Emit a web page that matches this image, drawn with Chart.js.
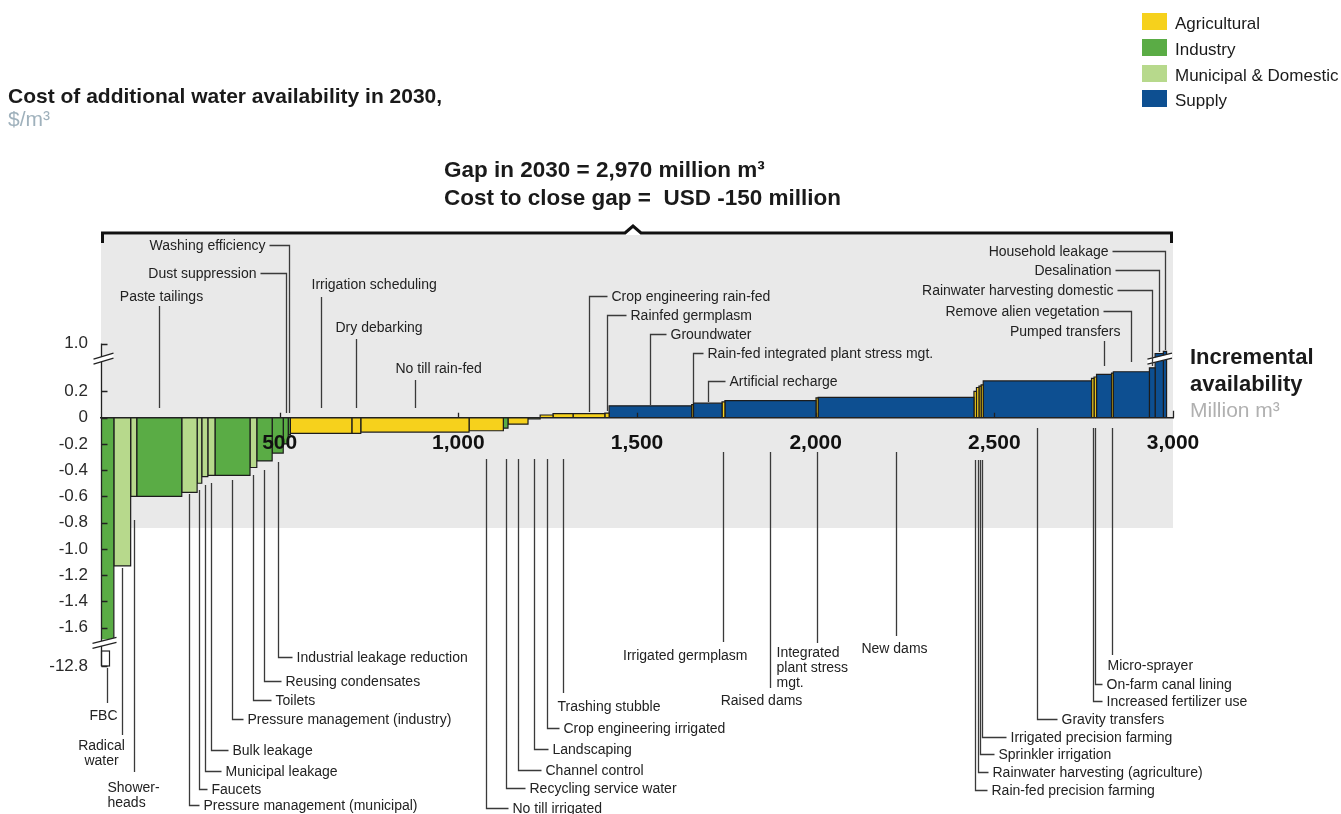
<!DOCTYPE html>
<html>
<head>
<meta charset="utf-8">
<script src="https://cdn.jsdelivr.net/npm/chart.js@4.4.1/dist/chart.umd.min.js"></script>
<style>
  body { margin: 0; background: #fff; font-family: "Liberation Sans", Arial, Helvetica, sans-serif; }
  #wrap { position: relative; width: 1341px; height: 814px; overflow: hidden; }
  #curva { position: absolute; left: 0; top: 0; }
  .txt { position: absolute; white-space: pre; color: #1a1a1a; }
  .nota { position: absolute; white-space: nowrap; font-size: 14px; line-height: 15px; color: #222; }
  .caja { position: absolute; width: 25px; height: 17px; }
</style>
</head>
<body>
<div id="wrap">
  <canvas id="curva" width="1341" height="814"></canvas>

  <div class="txt" style="left:8px; top:83px; font-size:21px; line-height:26px; font-weight:bold;">Cost of additional water availability in 2030,</div>
  <div class="txt" style="left:8px; top:107px; font-size:21px; line-height:24px; color:#9fb1bc;">$/m³</div>

  <div class="txt" style="left:444px; top:156px; font-size:22.5px; line-height:28px; font-weight:bold;">Gap in 2030 = 2,970 million m³</div>
  <div class="txt" style="left:444px; top:184px; font-size:22.5px; line-height:28px; font-weight:bold;">Cost to close gap =  USD -150 million</div>

  <div class="txt" style="left:1190px; top:343px; font-size:22px; line-height:27px; font-weight:bold;">Incremental</div>
  <div class="txt" style="left:1190px; top:370px; font-size:22px; line-height:27px; font-weight:bold;">availability</div>
  <div class="txt" style="left:1190px; top:397px; font-size:21px; line-height:26px; color:#b0b0b0;">Million m³</div>

  <div class="caja" style="left:1142px; top:13px; background:#f6d11c;"></div>
  <div class="txt" style="left:1175px; top:14px; font-size:17px; line-height:20px;">Agricultural</div>
  <div class="caja" style="left:1142px; top:39px; background:#5aac45;"></div>
  <div class="txt" style="left:1175px; top:40px; font-size:17px; line-height:20px;">Industry</div>
  <div class="caja" style="left:1142px; top:65px; background:#b7d98c;"></div>
  <div class="txt" style="left:1175px; top:66px; font-size:17px; line-height:20px;">Municipal &amp; Domestic</div>
  <div class="caja" style="left:1142px; top:90px; background:#0d4f91;"></div>
  <div class="txt" style="left:1175px; top:91px; font-size:17px; line-height:20px;">Supply</div>
</div>

<script>
  // Palancas de la curva, en el orden en que aparecen (de menor a mayor coste)
  const palancas = [
    "FBC", "Radical water", "Showerheads", "Paste tailings",
    "Pressure management (municipal)", "Faucets", "Municipal leakage", "Bulk leakage",
    "Pressure management (industry)", "Toilets", "Reusing condensates",
    "Industrial leakage reduction", "Dust suppression", "Washing efficiency",
    "Irrigation scheduling", "Dry debarking", "No till rain-fed", "No till irrigated",
    "Recycling service water", "Channel control", "Landscaping",
    "Crop engineering irrigated", "Trashing stubble", "Crop engineering rain-fed",
    "Rainfed germplasm", "Groundwater", "Rain-fed integrated plant stress mgt.",
    "Artificial recharge", "Irrigated germplasm", "Raised dams",
    "Integrated plant stress mgt.", "New dams", "Rain-fed precision farming",
    "Rainwater harvesting (agriculture)", "Sprinkler irrigation",
    "Irrigated precision farming", "Gravity transfers", "Increased fertilizer use",
    "On-farm canal lining", "Pumped transfers", "Micro-sprayer",
    "Remove alien vegetation", "Rainwater harvesting domestic", "Desalination",
    "Household leakage"
  ];

  // A = agrícola, I = industria, M = municipal y doméstico, S = oferta
  const sectores = [
    "I", "M", "M", "I", "M", "M", "M", "M", "I", "M", "I", "I", "I", "I",
    "A", "A", "A", "A", "I", "A", "M", "A", "A", "A", "A", "S", "A", "S",
    "A", "S", "A", "S", "A", "A", "A", "A", "S", "A", "A", "S", "A", "S",
    "S", "S", "S"
  ];

  // disponibilidad incremental de cada palanca, millones de m3
  const volumenes = [
    36, 47, 17, 126, 43, 13, 17, 20, 98, 19, 43, 31, 14, 6,
    172, 25, 303, 96, 13, 56, 34, 36, 56, 89, 12, 231, 5, 80,
    8, 255, 6, 436, 7, 7, 6, 6, 303, 7, 7, 42, 5, 101,
    16, 23, 9
  ];

  // coste, $/m3
  const costos = [
    -12.8, -1.13, -0.6, -0.6, -0.57, -0.5, -0.45, -0.44, -0.44, -0.38, -0.33, -0.27, -0.2, -0.13,
    -0.12, -0.12, -0.11, -0.1, -0.08, -0.05, -0.01, 0.02, 0.03, 0.03, 0.035, 0.09, 0.1, 0.11,
    0.12, 0.13, 0.15, 0.155, 0.2, 0.23, 0.24, 0.25, 0.28, 0.3, 0.31, 0.33, 0.34, 0.35,
    0.38, 0.66, 0.73
  ];

  const yTicks = [-12.8, -1.6, -1.4, -1.2, -1.0, -0.8, -0.6, -0.4, -0.2, 0, 0.2, 1.0];
  const xTicks = [0, 500, 1000, 1500, 2000, 2500, 3000];

  const colores = { A: "#f6d11c", I: "#5aac45", M: "#b7d98c", S: "#0d4f91" };
  const fuente = '"Liberation Sans", Arial, Helvetica, sans-serif';

  // eje vertical cortado: lineal entre -1.7 y 0.44, comprimido fuera
  function disp(v) {
    if (v > 0.44) return 0.44 + (v - 0.44) * 0.223;
    if (v < -1.7) return -1.7 + (v + 1.7) * 0.0174;
    return v;
  }

  const inicios = [];
  let acum = 0;
  volumenes.forEach(w => { inicios.push(acum); acum += w; });
  const centro = nombre => {
    const i = palancas.indexOf(nombre);
    return inicios[i] + volumenes[i] / 2;
  };

  // etiquetas con línea guía (posiciones en px de la página)
  const notas = [
    { n: "Washing efficiency", y0: 413, ty: 245, hl: -20 },
    { n: "Dust suppression", y0: 413, ty: 273, hl: -26 },
    { n: "Paste tailings", y0: 408, y1: 306, ty: 296, dx: 2, al: "c" },
    { n: "Irrigation scheduling", y0: 408, y1: 297, ty: 284, dx: -10, al: "l" },
    { n: "Dry debarking", y0: 408, y1: 339, ty: 327, dx: -21, al: "l" },
    { n: "No till rain-fed", y0: 408, y1: 380, ty: 368, dx: -20, al: "l" },
    { n: "Crop engineering rain-fed", y0: 412, ty: 296, hl: 18 },
    { n: "Rainfed germplasm", y0: 411, ty: 315, hl: 19 },
    { n: "Groundwater", y0: 405, ty: 334, hl: 16 },
    { n: "Rain-fed integrated plant stress mgt.", y0: 403, ty: 353, hl: 10 },
    { n: "Artificial recharge", y0: 402, ty: 381, hl: 17 },
    { n: "Household leakage", y0: 350, ty: 251, hl: -53 },
    { n: "Desalination", y0: 352, ty: 270, hl: -44 },
    { n: "Rainwater harvesting domestic", y0: 366, ty: 290, hl: -35 },
    { n: "Remove alien vegetation", y0: 362, ty: 311, hl: -28 },
    { n: "Pumped transfers", y0: 366, y1: 341, ty: 331, dx: 16, al: "r" },

    { n: "FBC", t: "FBC", y0: 668, y1: 703, ty: 715, dx: -4, al: "c" },
    { n: "Radical water", t: "Radical<br>water", y0: 568, y1: 735, ty: 745, dx: -21, al: "c" },
    { n: "Showerheads", t: "Shower-<br>heads", y0: 520, y1: 772, ty: 787, dx: -27, al: "l" },
    { n: "Pressure management (municipal)", y0: 494, ty: 805, hl: 10 },
    { n: "Faucets", y0: 490, ty: 789, hl: 8 },
    { n: "Municipal leakage", y0: 485, ty: 771, hl: 16 },
    { n: "Bulk leakage", y0: 483, ty: 750, hl: 17 },
    { n: "Pressure management (industry)", y0: 480, ty: 719, hl: 11 },
    { n: "Toilets", y0: 475, ty: 700, hl: 18 },
    { n: "Reusing condensates", y0: 470, ty: 681, hl: 17 },
    { n: "Industrial leakage reduction", y0: 462, ty: 657, hl: 14 },
    { n: "No till irrigated", y0: 459, ty: 808, hl: 22 },
    { n: "Recycling service water", y0: 459, ty: 788, hl: 19 },
    { n: "Channel control", y0: 459, ty: 770, hl: 23 },
    { n: "Landscaping", y0: 459, ty: 749, hl: 14 },
    { n: "Crop engineering irrigated", y0: 459, ty: 728, hl: 12 },
    { n: "Trashing stubble", y0: 459, y1: 693, ty: 706, dx: -6, al: "l" },
    { n: "Irrigated germplasm", y0: 452, y1: 642, ty: 655, dx: 24, al: "r" },
    { n: "Raised dams", y0: 452, y1: 688, ty: 700, dx: -9, al: "c" },
    { n: "Integrated plant stress mgt.", t: "Integrated<br>plant stress<br>mgt.", y0: 452, y1: 643, ty: 652, dx: -41, al: "l" },
    { n: "New dams", y0: 452, y1: 636, ty: 648, dx: -2, al: "c" },
    { n: "Rain-fed precision farming", y0: 460, ty: 790, hl: 12 },
    { n: "Rainwater harvesting (agriculture)", y0: 460, ty: 772, hl: 10 },
    { n: "Sprinkler irrigation", y0: 460, ty: 754, hl: 14 },
    { n: "Irrigated precision farming", y0: 460, ty: 737, hl: 24 },
    { n: "Gravity transfers", y0: 428, ty: 719, hl: 20 },
    { n: "Increased fertilizer use", y0: 428, ty: 701, hl: 9 },
    { n: "On-farm canal lining", y0: 428, ty: 684, hl: 7 },
    { n: "Micro-sprayer", y0: 428, y1: 655, ty: 665, dx: -5, al: "l" }
  ];

  const datasets = palancas.map((nombre, i) => {
    const x0 = inicios[i], x1 = inicios[i] + volumenes[i], y = disp(costos[i]);
    return {
      label: nombre,
      data: [{ x: x0, y: 0 }, { x: x0, y: y }, { x: x1, y: y }, { x: x1, y: 0 }],
      backgroundColor: colores[sectores[i]],
      borderColor: "#1c1c1c",
      borderWidth: 1.2,
      borderJoinStyle: "miter",
      fill: "origin",
      pointRadius: 0,
      tension: 0
    };
  });

  function lineaX(xs, nombre) {
    return Math.round(xs.getPixelForValue(centro(nombre))) + 0.5;
  }

  function corte(ctx, xa, xb, yc) {
    ctx.save();
    ctx.fillStyle = "#fff";
    ctx.beginPath();
    ctx.moveTo(xa, yc + 3); ctx.lineTo(xb, yc - 3); ctx.lineTo(xb, yc + 2); ctx.lineTo(xa, yc + 8);
    ctx.closePath();
    ctx.fill();
    ctx.strokeStyle = "#222";
    ctx.lineWidth = 1.3;
    ctx.beginPath();
    ctx.moveTo(xa, yc + 3); ctx.lineTo(xb, yc - 3);
    ctx.moveTo(xa, yc + 8); ctx.lineTo(xb, yc + 2);
    ctx.stroke();
    ctx.restore();
  }

  // fondo gris y llave superior
  const fondo = {
    id: "fondo",
    beforeDraw(chart) {
      const { ctx, chartArea: a } = chart;
      ctx.save();
      ctx.fillStyle = "#e9e9e9";
      ctx.fillRect(a.left, a.top + 1, a.right - a.left, 527 - a.top);
      ctx.strokeStyle = "#111";
      ctx.lineWidth = 3;
      const cx = (a.left + a.right) / 2 - 4;
      ctx.beginPath();
      ctx.moveTo(a.left + 1.5, a.top + 9);
      ctx.lineTo(a.left + 1.5, a.top - 1);
      ctx.lineTo(cx - 8, a.top - 1);
      ctx.lineTo(cx, a.top - 8);
      ctx.lineTo(cx + 8, a.top - 1);
      ctx.lineTo(a.right - 1.5, a.top - 1);
      ctx.lineTo(a.right - 1.5, a.top + 9);
      ctx.stroke();
      ctx.restore();
    }
  };

  // ejes con cortes, marcas y líneas guía
  const ejes = {
    id: "ejes",
    afterDraw(chart) {
      const ctx = chart.ctx;
      const xs = chart.scales.x, ys = chart.scales.y;
      const x0 = Math.round(xs.left) + 0.5;
      const y0 = ys.getPixelForValue(0);
      ctx.save();

      // tramo cortado de FBC
      const iF = palancas.indexOf("FBC");
      const fa = xs.getPixelForValue(inicios[iF]), fb = xs.getPixelForValue(inicios[iF] + volumenes[iF]);
      const yCorte = ys.getPixelForValue(-1.69);
      const yFin = ys.getPixelForValue(disp(-12.8));
      ctx.fillStyle = "#fff";
      ctx.fillRect(fa - 1, yCorte, fb - fa + 3, yFin - yCorte + 3);

      ctx.strokeStyle = "#222";
      ctx.lineWidth = 1.3;
      ctx.beginPath();
      ctx.moveTo(x0, ys.getPixelForValue(disp(1.0)));
      ctx.lineTo(x0, yFin);
      yTicks.forEach(v => {
        const py = Math.round(ys.getPixelForValue(disp(v))) + 0.5;
        ctx.moveTo(x0, py); ctx.lineTo(x0 + 6, py);
      });
      xTicks.slice(1).forEach(v => {
        const px = Math.round(xs.getPixelForValue(v)) + 0.5;
        ctx.moveTo(px, y0); ctx.lineTo(px, y0 - (v === 3000 ? 7 : 5));
      });
      ctx.stroke();

      ctx.strokeStyle = "#222";
      ctx.lineWidth = 1.2;
      ctx.strokeRect(x0, ys.getPixelForValue(-1.779), 8, yFin - ys.getPixelForValue(-1.779));

      const yTop = ys.getPixelForValue(disp(0.5)) - 2;
      corte(ctx, x0 - 8, x0 + 12, yTop);
      corte(ctx, x0 - 9, x0 + 15, ys.getPixelForValue(-1.72) - 3);
      const iR = palancas.indexOf("Rainwater harvesting domestic");
      corte(ctx, xs.getPixelForValue(inicios[iR]) - 2, xs.right - 1, yTop);

      // líneas guía
      ctx.strokeStyle = "#3a3a3a";
      ctx.lineWidth = 1.3;
      ctx.beginPath();
      notas.forEach(a => {
        const lx = lineaX(xs, a.n);
        if (a.hl) {
          ctx.moveTo(lx, a.y0); ctx.lineTo(lx, a.ty + 0.5); ctx.lineTo(lx + a.hl, a.ty + 0.5);
        } else {
          ctx.moveTo(lx, a.y0); ctx.lineTo(lx, a.y1);
        }
      });
      ctx.stroke();
      ctx.restore();
    }
  };

  const config = {
    type: "line",
    data: { datasets: datasets },
    options: {
      responsive: false,
      animation: false,
      events: [],
      layout: { padding: { left: 0, right: 168, top: 234, bottom: 134 } },
      plugins: { legend: { display: false }, tooltip: { enabled: false } },
      scales: {
        x: {
          type: "linear",
          min: 0,
          max: 3000,
          position: { y: 0 },
          afterBuildTicks: s => { s.ticks = xTicks.map(v => ({ value: v })); },
          grid: { display: false, drawTicks: false },
          border: { display: true, color: "#222", width: 1.5, z: 1 },
          ticks: {
            z: 1,
            padding: 13,
            autoSkip: false,
            maxRotation: 0,
            color: "#111",
            font: { family: fuente, size: 21, weight: "bold" },
            callback: v => (v === 0 ? "" : v.toLocaleString("en-US"))
          }
        },
        y: {
          type: "linear",
          min: -2.0,
          max: 1.4,
          afterFit: s => { s.width = 101; },
          afterBuildTicks: s => { s.ticks = yTicks.map(v => ({ value: disp(v) })); },
          grid: { display: false, drawTicks: false },
          border: { display: false },
          ticks: {
            padding: 13,
            autoSkip: false,
            color: "#2a2a2a",
            font: { family: fuente, size: 17 },
            callback: (v, i) => (yTicks[i] === 0 ? "0" : yTicks[i].toFixed(1))
          }
        }
      }
    },
    plugins: [fondo, ejes]
  };

  const curva = new Chart(document.getElementById("curva"), config);

  // textos de las etiquetas
  const capa = document.getElementById("wrap");
  const xs = curva.scales.x;
  notas.forEach(a => {
    const lx = lineaX(xs, a.n);
    let ax, al;
    if (a.hl) {
      ax = lx + a.hl + (a.hl > 0 ? 4 : -4);
      al = a.hl > 0 ? "l" : "r";
    } else {
      ax = lx + a.dx;
      al = a.al;
    }
    const d = document.createElement("div");
    d.className = "nota";
    d.innerHTML = a.t || a.n;
    d.style.left = ax + "px";
    d.style.top = (a.ty - 7.5) + "px";
    d.style.transform = al === "c" ? "translateX(-50%)" : al === "r" ? "translateX(-100%)" : "none";
    d.style.textAlign = al === "c" ? "center" : al === "r" ? "right" : "left";
    capa.appendChild(d);
  });
</script>
</body>
</html>
